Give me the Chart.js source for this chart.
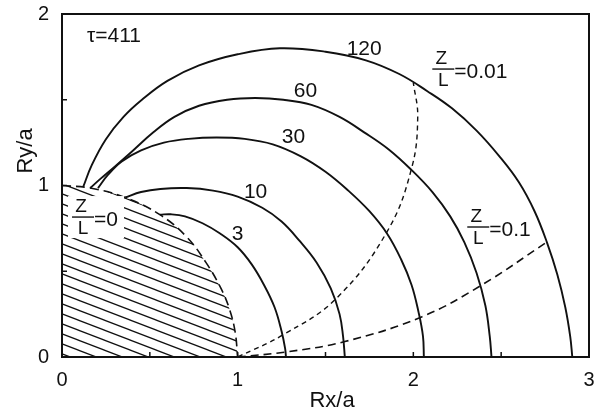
<!DOCTYPE html>
<html>
<head>
<meta charset="utf-8">
<script src="https://cdn.jsdelivr.net/npm/chart.js@4/dist/chart.umd.min.js"></script>
<style>
  html, body { margin: 0; padding: 0; background: #fff; }
  #wrap { width: 598px; height: 416px; position: relative; }
</style>
</head>
<body>
<div id="wrap"><canvas id="c" width="598" height="416"></canvas></div>
<script>
// Trajectory envelopes (Rx/a, Ry/a) for several times, tau = 411
const tauLabel = 'τ=411';
const curveNames = ['3', '10', '30', '60', '120'];

const curve3 = [[0.557,0.83],[0.62,0.832],[0.70,0.82],[0.80,0.78],[0.90,0.72],[1.0,0.64],[1.08,0.54],[1.15,0.42],[1.21,0.29],[1.25,0.15],[1.27,0.05],[1.275,0]];
const curve10 = [[0.36,0.93],[0.45,0.962],[0.56,0.98],[0.71,0.985],[0.86,0.97],[1.0,0.935],[1.14,0.87],[1.25,0.79],[1.35,0.68],[1.45,0.55],[1.53,0.40],[1.58,0.25],[1.60,0.12],[1.61,0]];
const curve30 = [[0.205,0.985],[0.26,1.06],[0.34,1.14],[0.45,1.205],[0.58,1.25],[0.72,1.272],[0.88,1.28],[1.04,1.272],[1.20,1.24],[1.36,1.17],[1.50,1.08],[1.63,0.97],[1.75,0.85],[1.85,0.72],[1.93,0.57],[1.99,0.42],[2.03,0.26],[2.055,0.12],[2.06,0]];
const curve60 = [[0.16,0.985],[0.22,1.04],[0.30,1.11],[0.40,1.20],[0.52,1.31],[0.64,1.40],[0.78,1.465],[0.94,1.50],[1.10,1.51],[1.26,1.50],[1.42,1.47],[1.58,1.40],[1.72,1.31],[1.86,1.21],[1.99,1.09],[2.11,0.96],[2.21,0.82],[2.29,0.67],[2.36,0.49],[2.41,0.30],[2.435,0.12],[2.445,0]];
const curve120 = [[0.12,0.99],[0.17,1.12],[0.25,1.27],[0.35,1.40],[0.455,1.50],[0.60,1.61],[0.78,1.70],[1.0,1.765],[1.24,1.80],[1.50,1.78],[1.73,1.73],[1.92,1.65],[2.08,1.55],[2.22,1.45],[2.36,1.32],[2.49,1.17],[2.60,1.02],[2.69,0.85],[2.76,0.67],[2.82,0.48],[2.865,0.29],[2.893,0.12],[2.905,0]];

// Loci of constant Z/L
const zl0 = [[0,1.0],[0.16,0.985],[0.36,0.93],[0.557,0.83],[0.71,0.70],[0.82,0.55],[0.90,0.41],[0.95,0.29],[0.985,0.15],[1.0,0]];
const zl001 = [[1.0,0],[1.26,0.13],[1.56,0.34],[1.85,0.73],[1.99,1.10],[2.025,1.40],[2.0,1.60]];
const zl01 = [[1.0,0],[1.28,0.03],[1.61,0.09],[2.05,0.235],[2.39,0.42],[2.76,0.67]];

// Axis ticks
const xTicks = [0, 1, 2, 3];
const yTicks = [0, 1, 2];

const FONT = "'Liberation Sans', Arial, sans-serif";
const INK = '#111';

const toXY = arr => arr.map(([x, y]) => ({ x, y }));

const canvas = document.getElementById('c');
const ctx = canvas.getContext('2d');

// diagonal hatch tile for the Z/L=0 region
const tile = document.createElement('canvas');
tile.width = 26; tile.height = 10;
const tc = tile.getContext('2d');
tc.strokeStyle = INK;
tc.lineWidth = 1.3;
for (const dy of [-10, 0, 10]) {
  tc.beginPath();
  tc.moveTo(-2, dy - 2 * 10 / 26);
  tc.lineTo(28, dy + 10 + 2 * 10 / 26);
  tc.stroke();
}
const hatch = ctx.createPattern(tile, 'repeat');

const solid = (name, pts) => ({
  label: name, data: toXY(pts), showLine: true, borderColor: INK,
  borderWidth: 1.9, pointRadius: 0, tension: 0.4, fill: false
});
const dashed = (name, pts, dash, w) => ({
  label: name, data: toXY(pts), showLine: true, borderColor: INK,
  borderWidth: w, borderDash: dash, pointRadius: 0, tension: 0.4, fill: false
});

// text annotations in data coordinates
const curveLabels = [
  { text: '120', x: 1.72, y: 1.796 },
  { text: '60', x: 1.386, y: 1.551 },
  { text: '30', x: 1.318, y: 1.283 },
  { text: '10', x: 1.102, y: 0.962 },
  { text: '3', x: 1.0, y: 0.717 }
];
const fracLabels = [
  { value: '=0', x: 0.057, y: 0.816, clear: true },
  { value: '=0.01', x: 2.108, y: 1.679 },
  { value: '=0.1', x: 2.307, y: 0.758 }
];

const decor = {
  id: 'decor',
  afterDraw(chart) {
    const c = chart.ctx;
    const xs = chart.scales.x, ys = chart.scales.y;
    const a = chart.chartArea;
    c.save();
    c.fillStyle = INK;
    c.strokeStyle = INK;

    // Z/L labels written as small fractions
    for (const f of fracLabels) {
      const px = xs.getPixelForValue(f.x), py = ys.getPixelForValue(f.y);
      if (f.clear) {
        c.fillStyle = '#fff';
        c.fillRect(px - 4, py - 21, 56, 42);
        c.fillStyle = INK;
      }
      c.font = `19px ${FONT}`;
      c.textAlign = 'center';
      c.textBaseline = 'middle';
      c.fillText('Z', px + 9, py - 10);
      c.fillText('L', px + 11, py + 12);
      c.lineWidth = 1.4;
      c.beginPath();
      c.moveTo(px, py); c.lineTo(px + 22, py);
      c.stroke();
      c.font = `21px ${FONT}`;
      c.textAlign = 'left';
      c.fillText(f.value, px + 22, py + 3);
    }

    // curve labels
    c.font = `21px ${FONT}`;
    c.textAlign = 'center';
    c.textBaseline = 'middle';
    for (const l of curveLabels) {
      c.fillText(l.text, xs.getPixelForValue(l.x), ys.getPixelForValue(l.y));
    }
    c.textAlign = 'left';
    c.fillText(tauLabel, xs.getPixelForValue(0.142), ys.getPixelForValue(1.869));

    // frame and inward ticks
    c.lineWidth = 2;
    c.strokeRect(a.left, a.top, a.right - a.left, a.bottom - a.top);
    c.lineWidth = 1.5;
    for (let v = 0.5; v < 3; v += 0.5) {
      const px = xs.getPixelForValue(v);
      c.beginPath(); c.moveTo(px, a.bottom); c.lineTo(px, a.bottom - 5); c.stroke();
    }
    for (let v = 0.5; v < 2; v += 0.5) {
      const py = ys.getPixelForValue(v);
      c.beginPath(); c.moveTo(a.left, py); c.lineTo(a.left + 5, py); c.stroke();
    }

    // axis titles
    c.font = `22px ${FONT}`;
    c.textAlign = 'center';
    c.textBaseline = 'middle';
    c.fillText('Rx/a', 332, 401);
    c.translate(26, 151);
    c.rotate(-Math.PI / 2);
    c.fillText('Ry/a', 0, 0);
    c.restore();
  }
};

new Chart(canvas, {
  type: 'scatter',
  data: {
    datasets: [
      Object.assign(dashed('Z/L=0', zl0, [9, 5], 1.6), { fill: 'origin', backgroundColor: hatch }),
      solid(curveNames[0], curve3),
      solid(curveNames[1], curve10),
      solid(curveNames[2], curve30),
      solid(curveNames[3], curve60),
      solid(curveNames[4], curve120),
      dashed('Z/L=0.01', zl001, [5, 4], 1.4),
      dashed('Z/L=0.1', zl01, [8, 5], 1.6)
    ]
  },
  options: {
    responsive: false,
    animation: false,
    devicePixelRatio: 1,
    layout: { padding: { top: 14, right: 9, left: 0, bottom: 0 } },
    plugins: { legend: { display: false }, tooltip: { enabled: false } },
    scales: {
      x: {
        type: 'linear', min: 0, max: 3,
        grid: { display: false, drawTicks: false },
        border: { display: false },
        ticks: {
          stepSize: 1, padding: 11, color: INK, maxRotation: 0,
          font: { family: FONT, size: 20 },
          callback: v => (xTicks.includes(v) ? String(v) : '')
        },
        afterFit(s) { s.height = 59; s.paddingLeft = 0; s.paddingRight = 0; }
      },
      y: {
        type: 'linear', min: 0, max: 2,
        grid: { display: false, drawTicks: false },
        border: { display: false },
        ticks: {
          stepSize: 1, padding: 13, color: INK,
          font: { family: FONT, size: 20 },
          callback: v => (yTicks.includes(v) ? String(v) : '')
        },
        afterFit(s) { s.width = 62; s.paddingTop = 0; s.paddingBottom = 0; }
      }
    }
  },
  plugins: [decor]
});
</script>
</body>
</html>
